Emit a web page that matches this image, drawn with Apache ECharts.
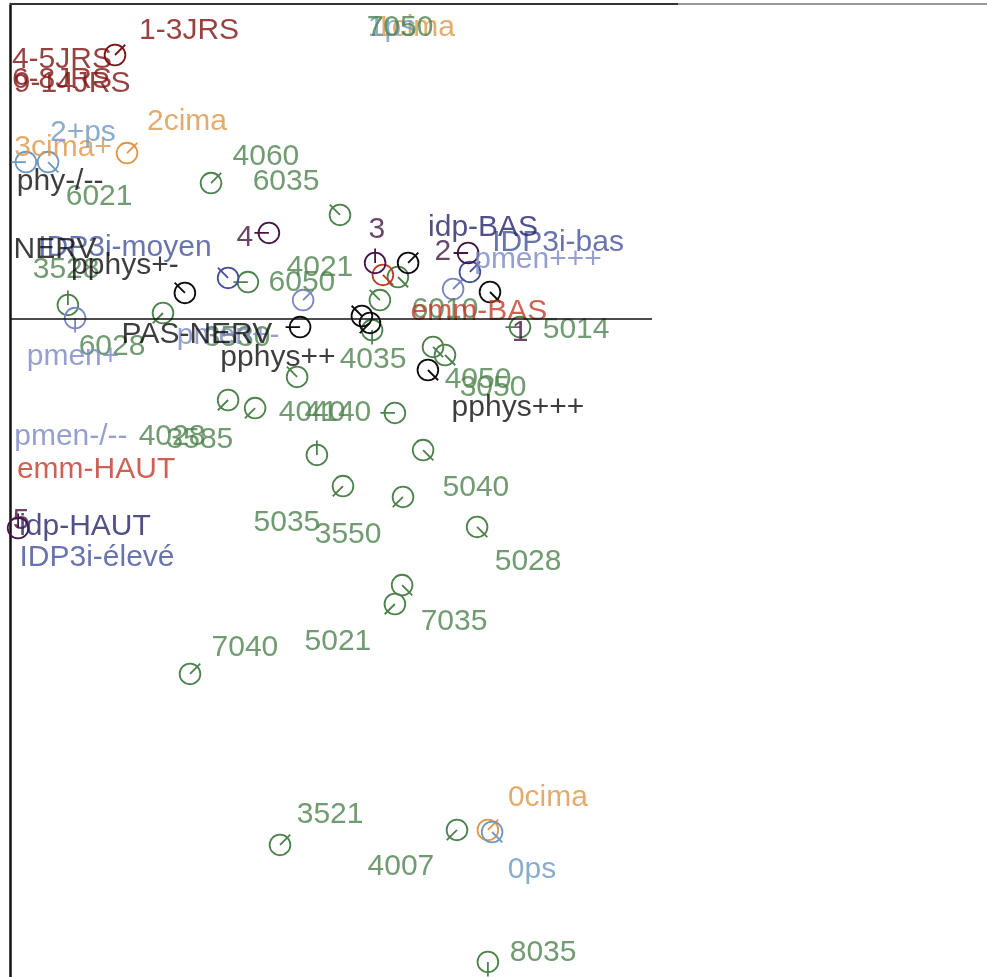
<!DOCTYPE html>
<html><head><meta charset="utf-8">
<script src="https://cdn.jsdelivr.net/npm/echarts@6/dist/echarts.min.js"></script>
<style>html,body{margin:0;padding:0;background:#fff}#c{width:987px;height:977px}</style>
</head><body><div id="c"></div>
<script>
// ---- data: labels [text, x, y], markers [x, y, needle angle in degrees] ----
const jrsLabels = [['1-3JRS',-0.403,0.96],['4-5JRS',-0.827,0.863],['6-8JRS',-0.827,0.797],['9-14JRS',-0.793,0.783]];
const jrsMarkers = [[-0.65,0.88,45]];

const cimaLabels = [['1cima',0.35,0.97],['2cima',-0.41,0.657],['3cima+',-0.823,0.57],['0cima',0.793,-1.597]];
const cimaMarkers = [[-0.61,0.553,45],[0.593,-1.703,45]];

const psLabels = [['2+ps',-0.757,0.62],['1ps',0.273,0.97],['0ps',0.74,-1.837]];
const psMarkers = [[-0.947,0.523,180],[-0.873,0.523,315],[0.607,-1.71,315]];

const physLabels = [['phy-/--',-0.833,0.457],['NERV',-0.85,0.23],['pphys+-',-0.617,0.177],['PAS-NERV',-0.377,-0.053],['pphys++',-0.107,-0.13],['pphys+++',0.693,-0.297]];
const physMarkers = [[-0.417,0.087,135],[-0.033,-0.027,180],[0.173,0.01,135],[0.2,-0.013,225],[0.393,-0.17,315],[0.6,0.09,315],[0.327,0.187,45]];

const rankLabels = [['1',0.7,-0.047],['2',0.443,0.223],['3',0.223,0.297],['4',-0.217,0.27],['5',-0.963,-0.673]];
const rankMarkers = [[-0.137,0.287,180],[0.217,0.187,90],[0.527,0.22,180],[-0.973,-0.697,90]];

const idpLabels = [['idp-BAS',0.577,0.303],['idp-HAUT',-0.75,-0.693]];
const idp3Labels = [['IDP3i-moyen',-0.617,0.237],['IDP3i-bas',0.827,0.253],['IDP3i-élevé',-0.71,-0.797]];
const idp3Markers = [[-0.273,0.137,135],[0.533,0.157,45]];

const pmenLabels = [['pmen+++',0.76,0.197],['pmen+-',-0.273,-0.057],['pmen+',-0.79,-0.127],['pmen-/--',-0.797,-0.393]];
const pmenMarkers = [[-0.023,0.063,45],[-0.783,0.003,270],[0.477,0.1,45]];

const emmLabels = [['emm-BAS',0.563,0.023],['emm-HAUT',-0.713,-0.503]];
const emmMarkers = [[0.243,0.147,315]];

const codeLabels = [
  ['7050',0.3,0.97],['4060',-0.147,0.54],['6035',-0.08,0.457],['6021',-0.703,0.407],
  ['3528',-0.813,0.163],['4021',0.033,0.17],['6050',-0.027,0.12],['6010',0.45,0.03],
  ['5014',0.887,-0.037],['6028',-0.66,-0.093],['3530',-0.243,-0.063],['4035',0.21,-0.137],
  ['4050',0.56,-0.203],['3050',0.61,-0.23],['4040',0.007,-0.313],['4140',0.093,-0.313],
  ['4028',-0.46,-0.393],['3585',-0.367,-0.403],['5040',0.553,-0.563],['5035',-0.077,-0.68],
  ['3550',0.127,-0.72],['5028',0.727,-0.81],['7035',0.48,-1.01],['5021',0.093,-1.077],
  ['7040',-0.217,-1.097],['3521',0.067,-1.653],['4007',0.303,-1.827],['8035',0.777,-2.113]
];
const codeMarkers = [
  [-0.33,0.453,45],[0.1,0.347,135],[-0.207,0.123,180],[-0.49,0.02,225],[-0.807,0.047,90],
  [-0.043,-0.193,135],[-0.273,-0.27,225],[-0.183,-0.297,225],[0.283,-0.313,180],[0.023,-0.453,90],
  [0.377,-0.437,315],[0.11,-0.557,225],[0.31,-0.593,225],[0.557,-0.693,315],[0.307,-0.887,315],
  [0.283,-0.95,225],[-0.4,-1.183,45],[-0.1,-1.753,45],[0.49,-1.703,225],[0.293,0.14,315],
  [0.233,0.063,135],[0.207,-0.037,270],[0.7,-0.027,180],[0.41,-0.093,315],[0.45,-0.12,315],
  [0.593,-2.143,270]
];

// ---- styling ----
const groups = [
  {labels: jrsLabels, markers: jrsMarkers, color: '#7e1212'},
  {labels: cimaLabels, markers: cimaMarkers, color: '#df9648'},
  {labels: psLabels, markers: psMarkers, color: '#6d98c0'},
  {labels: codeLabels, markers: codeMarkers, color: '#4d824d'},
  {labels: pmenLabels, markers: pmenMarkers, color: '#7b87c4'},
  {labels: emmLabels, markers: emmMarkers, color: '#c23a28'},
  {labels: idp3Labels, markers: idp3Markers, color: '#44509a'},
  {labels: idpLabels, markers: [], color: '#24246a'},
  {labels: rankLabels, markers: rankMarkers, color: '#461545'},
  {labels: physLabels, markers: physMarkers, color: '#0c0c0c'}
];
const needle = 'path://M-14,-14 M14,14 M10,0 A10,10 0 1,1 -10,0 A10,10 0 1,1 10,0 M0,0 L14,0';
const FONT = '"Liberation Sans", Arial, Helvetica, sans-serif';

const series = [];
groups.forEach(g => {
  if (g.markers.length) series.push({
    type: 'scatter', z: 2, silent: true, clip: false,
    symbol: needle, symbolSize: 29,
    itemStyle: {color: 'rgba(0,0,0,0)', borderColor: g.color, borderWidth: 1.8, opacity: 1},
    data: g.markers.map(m => ({value: [m[0], m[1]], symbolRotate: m[2]}))
  });
});
groups.forEach(g => {
  series.push({
    type: 'scatter', z: 3, silent: true, clip: false,
    symbolSize: 1, itemStyle: {color: 'rgba(0,0,0,0)'},
    label: {show: true, position: 'inside', formatter: '{b}', color: g.color,
            fontSize: 30, fontFamily: FONT, align: 'center', verticalAlign: 'middle'},
    data: g.labels.map(l => ({name: l[0], value: [l[1], l[2]]}))
  });
});
// frame lines
series.push({
  type: 'scatter', data: [], silent: true,
  markLine: {
    silent: true, symbol: ['none', 'none'], label: {show: false},
    data: [
      [{coord: [-1, 0], lineStyle: {color: '#111', width: 1.6, type: 'solid'}}, {coord: [1.14, 0]}],
      [{coord: [-1, 1.05], lineStyle: {color: '#333', width: 2, type: 'solid'}}, {coord: [1.227, 1.05]}]
    ]
  }
});

const chart = echarts.init(document.getElementById('c'), null, {renderer: 'canvas'});
chart.setOption({
  animation: false,
  backgroundColor: '#ffffff',
  grid: {left: 10, right: 0, top: 4, bottom: 0, containLabel: false},
  xAxis: {type: 'value', min: -1, max: 2.2567, position: 'top',
    axisLine: {show: true, onZero: false, lineStyle: {color: '#999', width: 2}},
    axisTick: {show: false}, axisLabel: {show: false}, splitLine: {show: false}},
  yAxis: {type: 'value', min: -2.1933, max: 1.05, position: 'left',
    axisLine: {show: true, onZero: false, lineStyle: {color: '#111', width: 2.5}},
    axisTick: {show: false}, axisLabel: {show: false}, splitLine: {show: false}},
  series: series
});
</script></body></html>
